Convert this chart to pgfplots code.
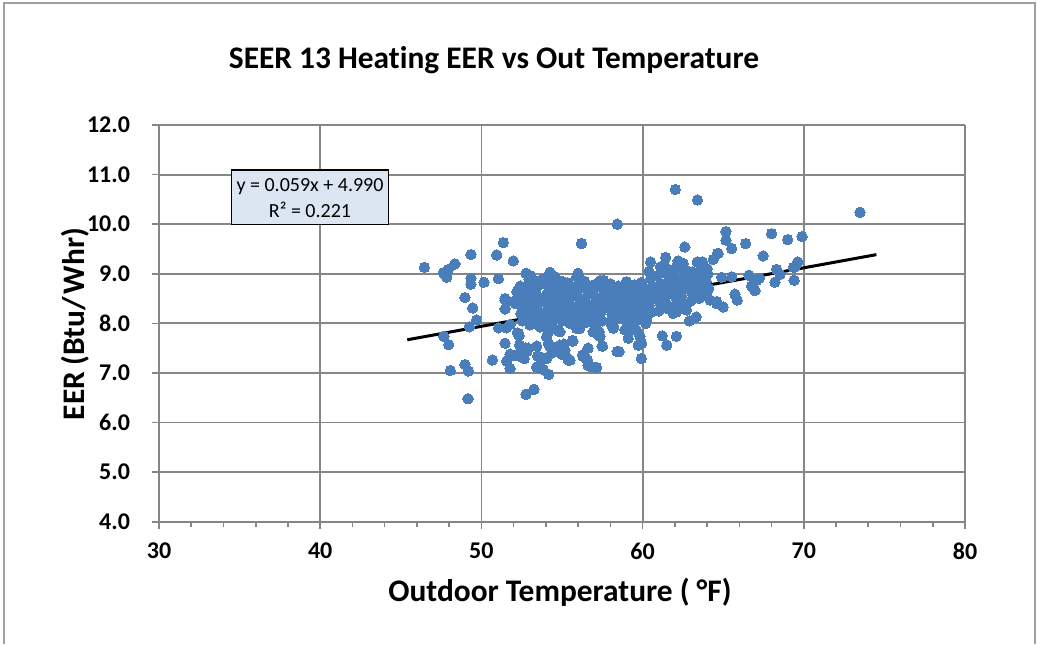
\documentclass[border=0pt]{standalone}
\usepackage{fontspec}
\setmainfont{Carlito}[Ligatures=NoCommon]
\usepackage{pgfplots}
\pgfplotsset{compat=1.18}
\definecolor{ptblue}{RGB}{74,126,187}
\definecolor{gridgray}{RGB}{134,134,134}
\definecolor{framegray}{RGB}{160,160,160}
\definecolor{boxfill}{RGB}{220,230,242}
\begin{document}
\begin{tikzpicture}[x=1pt,y=1pt]
  \useasboundingbox (-79.5,-61.15) rectangle (439,260.85);
  \draw[framegray, line width=0.8pt] (-77.5,-61.15) -- (-77.5,259.35) -- (438,259.35) -- (438,-61.15);
  \begin{axis}[
    at={(0,0)}, anchor=south west,
    scale only axis, width=403pt, height=198.35pt,
    xmin=30, xmax=80, ymin=4, ymax=12,
    xtick={30,40,...,80}, ytick={4,5,...,12},
    minor x tick num=4,
    grid=major, major grid style={draw=gridgray, line width=0.9pt},
    axis lines=left, axis line style={-, draw=gridgray, line width=0.9pt},
    tick align=outside, major tick length=3.5pt, minor tick length=2.5pt,
    tick style={draw=gridgray, line width=0.8pt},
    tick label style={font=\fontsize{12}{14}\selectfont\bfseries, text=black},
    /pgf/number format/assume math mode=true,
    xticklabel style={yshift=-3.5pt},
    yticklabel style={xshift=-7.5pt, /pgf/number format/.cd, fixed, fixed zerofill, precision=1},
    clip=false,
  ]
    % measured points
    \addplot[only marks, mark=*, mark size=2.6pt, mark options={fill=ptblue, draw=ptblue, line width=0pt}] coordinates {
      (46.46,9.13) (47.64,9.02) (47.95,9.09) (47.85,8.93) (48.36,9.20) (49.35,9.39)
      (51.36,9.63) (50.95,9.38) (51.98,9.26) (49.35,8.91) (49.35,8.79) (50.16,8.83)
      (51.05,8.90) (48.98,8.52) (49.46,8.31) (49.70,8.07) (49.25,7.93) (47.67,7.74)
      (47.97,7.57) (48.07,7.05) (48.98,7.17) (49.19,7.04) (49.17,6.48) (50.68,7.26)
      (51.47,7.60) (51.78,7.38) (51.57,7.24) (51.78,7.09) (52.77,6.57) (53.26,6.67)
      (51.06,7.91) (51.55,7.91) (51.78,7.98) (52.05,7.35) (51.47,8.47) (51.47,8.29)
      (51.98,8.44) (51.47,8.50) (52.30,7.80)
      (64.69,9.41) (64.38,9.29) (65.17,9.85) (65.17,9.68) (68.00,9.81) (69.00,9.69)
      (69.89,9.75) (66.39,9.61) (65.52,9.51) (67.48,9.36) (69.62,9.24) (69.45,9.14)
      (69.35,9.13) (68.31,9.09) (68.52,8.99) (69.40,8.87) (68.21,8.83) (66.60,8.97)
      (67.24,8.91) (67.08,8.87) (66.76,8.75) (66.97,8.66) (65.73,8.59) (65.87,8.47)
      (65.00,8.33) (64.59,8.40) (64.90,8.93) (65.52,8.94) (66.87,8.81) (73.49,10.24)
      (62.03,10.70) (63.40,10.49) (58.43,10.00) (56.21,9.61) (62.62,9.54)
      (60.49,9.24) (61.43,9.33) (62.20,9.26) (62.40,9.18) (62.10,9.14) (63.39,9.24)
      (63.72,9.24) (64.00,9.10) (63.93,9.01) (62.52,9.21) (64.65,9.41) (61.10,9.14)
      (61.20,9.04) (61.70,9.07) (62.70,9.07) (63.10,9.04) (63.90,9.12)
      (56.00,9.01) (55.90,8.94) (57.57,8.87) (57.16,8.77) (56.33,8.77) (55.50,8.74)
      (58.39,8.71) (59.00,8.84) (58.80,8.71) (59.10,8.74) (54.25,9.03) (52.77,9.01)
      (52.95,8.89) (54.62,8.91) (54.56,8.69) (54.04,8.85) (53.73,8.81) (53.42,8.75)
      (53.21,8.67) (52.23,8.65) (55.08,8.75) (55.29,8.74) (52.20,8.64) (52.30,8.57)
      (52.83,8.71) (52.72,8.47) (53.14,8.40) (52.10,8.40) (52.40,8.44) (52.60,8.27)
      (52.80,8.50)
      (61.22,7.75) (62.10,7.74) (61.50,7.56) (59.84,7.74) (59.94,7.60) (59.73,7.56)
      (59.92,7.29) (58.54,7.43) (57.52,7.54) (62.90,8.05) (63.32,8.13) (58.90,7.87)
      (59.11,7.70) (59.63,7.85) (60.25,8.08) (60.20,8.00) (60.04,8.13) (58.20,7.93)
      (61.90,8.20) (62.62,8.33) (62.73,8.27) (62.10,8.37) (63.97,8.60) (64.18,8.47)
      (64.59,8.44) (59.20,7.86) (56.62,7.50) (56.30,7.34) (56.50,7.29) (56.62,7.15)
      (57.10,7.11) (55.66,7.66) (55.50,7.26) (56.77,8.13) (57.05,7.97) (57.15,7.87)
      (57.25,7.77) (56.93,7.83) (55.90,7.90) (55.80,8.03) (56.00,8.17) (55.70,8.27)
      (58.18,7.90) (58.07,7.97) (58.28,8.10) (58.39,8.20) (58.80,8.23) (59.33,8.10)
      (59.53,8.03) (59.43,8.27) (59.84,8.30) (61.70,8.33) (62.10,8.23)
      (54.15,7.60) (54.25,7.53) (54.36,7.40) (54.67,7.46) (55.12,7.58) (55.19,7.46)
      (54.98,7.38) (55.46,7.26) (55.67,7.64) (56.27,7.36) (56.58,7.26) (56.77,7.13)
      (57.14,7.11) (57.49,7.54) (58.42,7.43) (54.87,7.83) (56.10,7.90) (56.72,8.10)
      (57.31,7.83) (57.36,7.74) (53.43,7.54) (53.49,7.34) (53.84,7.29) (53.59,7.12)
      (53.84,7.07) (54.17,6.97) (52.23,7.81) (52.33,7.75) (52.36,7.56) (52.71,7.50)
      (52.82,7.43) (52.20,7.36) (52.66,7.29) (52.40,7.55) (52.60,7.46) (52.90,7.50)
      (52.40,7.33) (53.53,7.33) (53.73,7.31) (54.04,7.29) (53.43,7.12) (54.04,7.73)
      (54.15,7.83) (54.36,7.90) (54.67,7.87) (54.84,7.83) (54.42,7.53) (54.56,7.43)
      (54.87,7.56) (55.08,7.46) (55.39,7.26) (53.00,7.97) (53.32,8.03) (53.63,7.93)
      (54.04,7.97) (54.46,8.07) (54.87,8.17) (55.29,8.23)
      % dense core
      (52.55,8.05) (52.45,8.20) (52.60,8.35) (52.50,8.55) (52.40,8.75)
      (53.05,7.98) (52.95,8.15) (53.10,8.30) (53.00,8.45) (53.15,8.62) (52.90,8.80) (53.05,8.96)
      (53.50,8.05) (53.60,8.22) (53.45,8.38) (53.55,8.52) (53.40,8.70) (53.60,8.86)
      (54.00,8.12) (54.10,8.28) (53.95,8.42) (54.05,8.58) (54.15,8.74) (53.90,8.90)
      (54.50,8.20) (54.40,8.35) (54.55,8.50) (54.45,8.65) (54.60,8.80) (54.50,8.95)
      (55.00,8.05) (55.10,8.17) (54.95,8.33) (55.05,8.46) (55.15,8.60) (54.90,8.72) (55.00,8.85)
      (55.50,8.00) (55.40,8.15) (55.55,8.28) (55.45,8.40) (55.60,8.55) (55.50,8.68) (55.35,8.82)
      (56.00,7.95) (56.10,8.10) (55.95,8.25) (56.05,8.38) (56.15,8.50) (55.90,8.62) (56.00,8.75) (56.10,8.90)
      (56.50,8.02) (56.40,8.18) (56.55,8.32) (56.45,8.45) (56.60,8.58) (56.50,8.70) (56.40,8.85)
      (57.00,7.98) (57.10,8.12) (56.95,8.28) (57.05,8.40) (57.15,8.52) (56.90,8.65) (57.00,8.78)
      (57.50,8.05) (57.40,8.22) (57.55,8.35) (57.45,8.48) (57.60,8.60) (57.50,8.72) (57.35,8.86)
      (58.00,8.02) (58.10,8.18) (57.95,8.30) (58.05,8.42) (58.15,8.55) (57.90,8.68) (58.00,8.80)
      (58.50,8.10) (58.40,8.25) (58.55,8.38) (58.45,8.50) (58.60,8.62) (58.50,8.75)
      (59.00,8.05) (59.10,8.20) (58.95,8.33) (59.05,8.45) (59.15,8.58) (58.90,8.70) (59.00,8.82)
      (59.50,8.12) (59.40,8.28) (59.55,8.40) (59.45,8.52) (59.60,8.65) (59.50,8.78)
      (60.00,8.18) (60.10,8.32) (59.95,8.45) (60.05,8.58) (60.15,8.70) (59.90,8.82)
      (60.50,8.22) (60.40,8.36) (60.55,8.48) (60.45,8.62) (60.60,8.75) (60.50,8.90) (60.40,9.05)
      (61.00,8.25) (61.10,8.40) (60.95,8.52) (61.05,8.66) (61.15,8.80) (60.90,8.95)
      (61.50,8.30) (61.40,8.45) (61.55,8.58) (61.45,8.72) (61.60,8.86) (61.50,9.00) (61.40,9.15)
      (62.00,8.35) (62.10,8.50) (61.95,8.62) (62.05,8.76) (62.15,8.90) (61.90,9.05)
      (62.50,8.40) (62.40,8.55) (62.55,8.68) (62.45,8.82) (62.60,8.95) (62.50,9.10)
      (63.00,8.45) (63.10,8.60) (62.95,8.72) (63.05,8.86) (63.15,9.00)
      (63.50,8.50) (63.40,8.65) (63.55,8.80) (63.45,8.95) (63.60,9.10)
      (64.00,8.55) (64.10,8.70) (63.95,8.85) (64.05,9.00)
    };
    % linear trend
    \addplot[black, line width=1.5pt] coordinates {(45.4,7.669) (74.5,9.386)};
  \end{axis}
  \node[font=\fontsize{15.7}{18}\selectfont\bfseries] at (167.5,230.85) {SEER 13 Heating EER vs Out Temperature};
  \node[font=\fontsize{15.7}{18}\selectfont\bfseries] at (200.5,-35.15) {Outdoor Temperature ( °F)};
  \node[font=\fontsize{15.7}{18}\selectfont\bfseries, rotate=90] at (-42,98.85) {EER\hspace{0.2em}(Btu/\hspace{0.1em}Whr)};
  \draw[black, line width=0.6pt, fill=boxfill] (36.35,148.7) rectangle (114.65,175.85);
  \node[font=\fontsize{10}{12}\selectfont] at (75.5,167.7) {y = 0.059x + 4.990};
  \node[font=\fontsize{10}{12}\selectfont] at (75.5,155.9) {R² = 0.221};
\end{tikzpicture}
\end{document}
